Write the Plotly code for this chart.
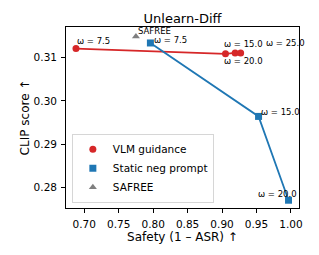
import plotly.graph_objects as go

# VLM guidance
vlm_safety = [0.688, 0.905, 0.919, 0.927]
vlm_clip = [0.3121, 0.3109, 0.3111, 0.3111]
vlm_labels = ["ω = 7.5", "ω = 15.0", "ω = 20.0", "ω = 25.0"]

# Static negative prompt
neg_safety = [0.796, 0.953, 0.9965]
neg_clip = [0.3134, 0.2964, 0.2770]
neg_labels = ["ω = 7.5", "ω = 15.0", "ω = 20.0"]

# SAFREE
safree_safety = [0.775]
safree_clip = [0.3149]
safree_labels = ["SAFREE"]

RED = "#d62728"
BLUE = "#1f77b4"
GRAY = "#7f7f7f"
FONT = "DejaVu Sans"

# The page body has an 8px default margin; size the figure to compensate.
W, H = 311, 247

fig = go.Figure()
fig.add_trace(go.Scatter(x=vlm_safety, y=vlm_clip, mode="lines+markers",
                         line=dict(color=RED, width=1.8),
                         marker=dict(color=RED, size=7, symbol="circle"),
                         showlegend=False))
fig.add_trace(go.Scatter(x=neg_safety, y=neg_clip, mode="lines+markers",
                         line=dict(color=BLUE, width=1.8),
                         marker=dict(color=BLUE, size=7, symbol="square"),
                         showlegend=False))
# legend-only traces (markers)
fig.add_trace(go.Scatter(x=[None], y=[None], mode="markers", name="VLM guidance",
                         marker=dict(color=RED, size=7, symbol="circle")))
fig.add_trace(go.Scatter(x=[None], y=[None], mode="markers", name="Static neg prompt",
                         marker=dict(color=BLUE, size=7, symbol="square")))
fig.add_trace(go.Scatter(x=safree_safety, y=safree_clip, mode="markers", name="SAFREE",
                         marker=dict(color=GRAY, size=7, symbol="triangle-up")))

ann_font = dict(family=FONT, size=8.5, color="black")
# VLM annotations: (xshift, yshift, xanchor, yanchor)
vlm_off = [(-1, 1, "left", "bottom"), (-3, 3, "left", "bottom"),
           (-13, -1, "left", "top"), (23, 3, "left", "bottom")]
for x, y, t, (dx, dy, xa, ya) in zip(vlm_safety, vlm_clip, vlm_labels, vlm_off):
    fig.add_annotation(x=x, y=y, text=t, showarrow=False, xshift=dx, yshift=dy,
                       xanchor=xa, yanchor=ya, font=ann_font)
neg_off = [(2, -4, "left", "bottom"), (0, -3, "left", "bottom"), (10, -1, "right", "bottom")]
for x, y, t, (dx, dy, xa, ya) in zip(neg_safety, neg_clip, neg_labels, neg_off):
    fig.add_annotation(x=x, y=y, text=t, showarrow=False, xshift=dx, yshift=dy,
                       xanchor=xa, yanchor=ya, font=ann_font)
for x, y, t in zip(safree_safety, safree_clip, safree_labels):
    fig.add_annotation(x=x, y=y, text=t, showarrow=False, xshift=0, yshift=-1,
                       xanchor="left", yanchor="bottom", font=ann_font)

axis_common = dict(showline=True, linecolor="black", linewidth=0.8, mirror=True,
                   ticks="outside", ticklen=4, tickwidth=0.8, tickcolor="black",
                   showgrid=False, zeroline=False, ticklabelstandoff=2,
                   tickfont=dict(family=FONT, size=10.5, color="black"))

fig.update_layout(
    width=W, height=H,
    margin=dict(l=58, r=20, t=19, b=47),
    paper_bgcolor="white", plot_bgcolor="white",
    title=dict(text="Unlearn-Diff", x=0.5, xref="paper", xanchor="center",
               y=1 - 10 / H, yanchor="middle",
               font=dict(family=FONT, size=13, color="black")),
    xaxis=dict(range=[0.6735, 1.0117], tickvals=[0.70, 0.75, 0.80, 0.85, 0.90, 0.95, 1.00],
               ticktext=["0.70", "0.75", "0.80", "0.85", "0.90", "0.95", "1.00"],
               title=dict(text="Safety (1 – ASR) ↑", font=dict(family=FONT, size=12, color="black"),
                          standoff=4),
               **axis_common),
    yaxis=dict(range=[0.2752, 0.3171], tickvals=[0.28, 0.29, 0.30, 0.31],
               ticktext=["0.28", "0.29", "0.30", "0.31"],
               title=dict(text="CLIP score ↑", font=dict(family=FONT, size=12, color="black"),
                          standoff=1),
               **axis_common),
    legend=dict(x=0.026, y=0.028, xanchor="left", yanchor="bottom",
                bgcolor="rgba(255,255,255,0.8)", bordercolor="#cccccc", borderwidth=0.8,
                font=dict(family=FONT, size=10.5, color="black"),
                itemwidth=30, tracegroupgap=0),
)

fig.write_html("out.html")
